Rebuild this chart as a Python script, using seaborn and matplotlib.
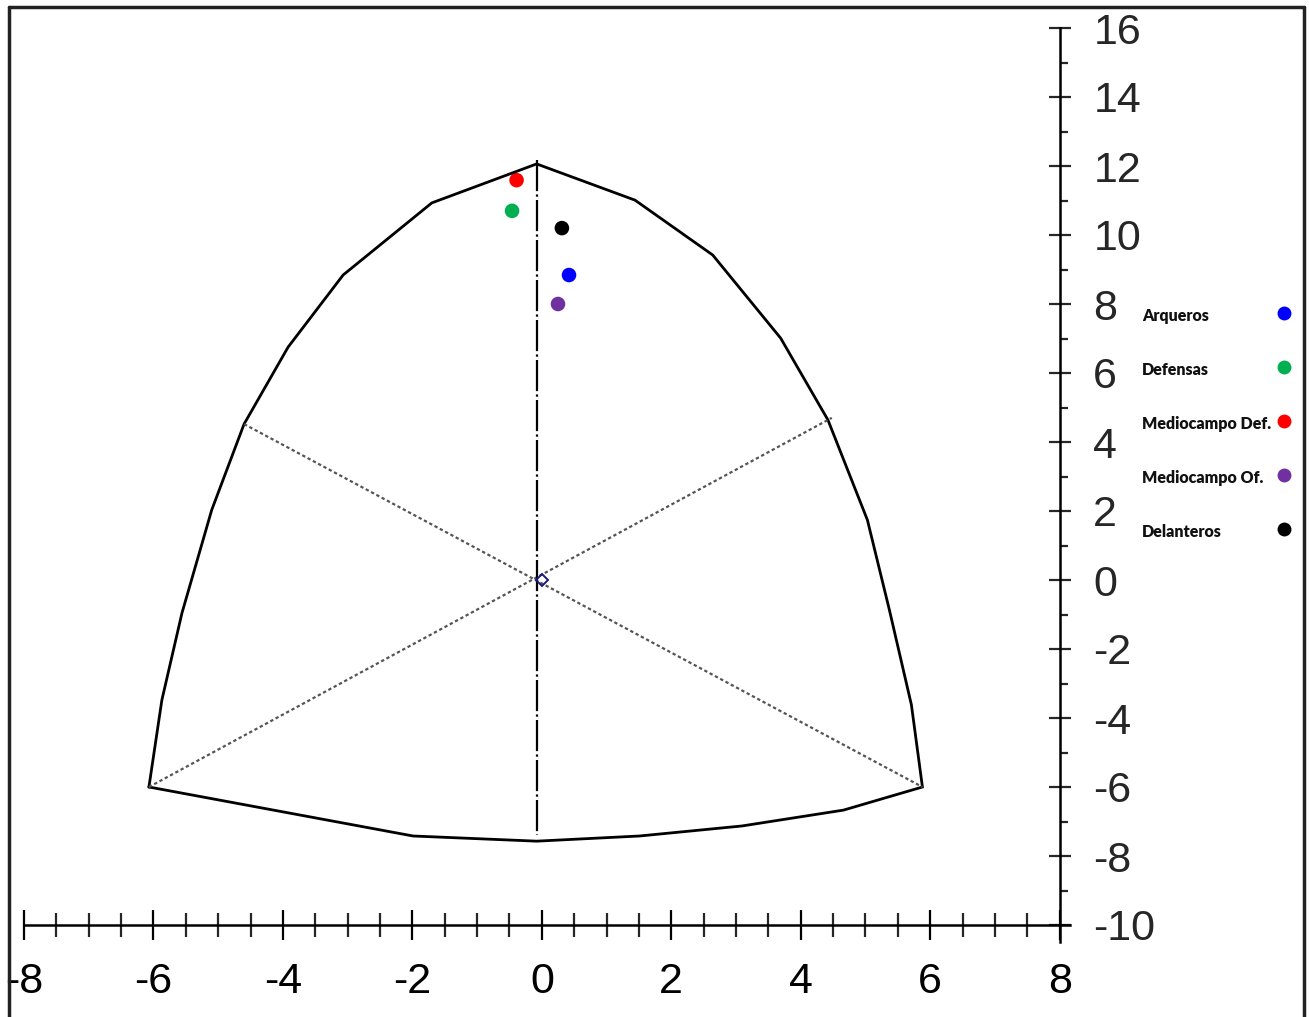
import seaborn as sns
import matplotlib.pyplot as plt
import pandas as pd
from matplotlib.lines import Line2D
from matplotlib.ticker import MultipleLocator

# somatochart outline, closed polygon
outline_x = [-6.07, -5.87, -5.56, -5.10, -4.60, -3.92, -3.07, -1.70, -0.08,
             1.44, 2.64, 3.69, 4.42, 5.03, 5.37, 5.71, 5.88,
             4.66, 3.09, 1.51, -0.08, -1.99, -6.07]
outline_y = [-6.00, -3.48, -0.96, 2.03, 4.52, 6.75, 8.84, 10.93, 12.06,
             11.01, 9.42, 7.01, 4.64, 1.74, -0.87, -3.62, -6.00,
             -6.67, -7.13, -7.42, -7.57, -7.42, -6.00]

# dotted diagonals and the vertical dash-dot axis
diag1_x = [-4.60, 5.88]
diag1_y = [4.52, -6.00]
diag2_x = [-6.07, 4.48]
diag2_y = [-6.00, 4.70]
vert_x = [-0.07, -0.07]
vert_y = [12.17, -7.39]

# group means
groups = ["Arqueros", "Defensas", "Mediocampo Def.", "Mediocampo Of.", "Delanteros"]
gx = [0.42, -0.46, -0.39, 0.25, 0.31]
gy = [8.84, 10.70, 11.59, 8.00, 10.20]
colors = ["#0000FF", "#00B050", "#FF0000", "#7030A0", "#000000"]

df = pd.DataFrame({"x": gx, "y": gy, "grupo": groups})

sns.set_style("white")
plt.rcParams["font.family"] = ["Liberation Sans Narrow", "Liberation Sans", "DejaVu Sans"]
plt.rcParams["axes.unicode_minus"] = False

W, H = 1309, 1017
fig = plt.figure(figsize=(W / 100, H / 100), dpi=100)
ax = fig.add_axes([24 / W, 1 - 942.25 / H, (1070 - 24) / W, (942.25 - 28) / H])

ax.plot(outline_x, outline_y, color="black", lw=2, solid_joinstyle="miter")
ax.plot(diag1_x, diag1_y, color="#555555", lw=1.6, linestyle=(0, (1.5, 1.2)))
ax.plot(diag2_x, diag2_y, color="#555555", lw=1.6, linestyle=(0, (1.5, 1.2)))
ax.plot(vert_x, vert_y, color="black", lw=1.6, linestyle=(0, (14, 1.5, 1, 1.5)))
ax.plot([0], [0], marker="D", markersize=6, mfc="none", mec="#1a1a7a", mew=1.4)

sns.scatterplot(data=df, x="x", y="y", hue="grupo", palette=colors,
                s=110, edgecolor="none", legend=False, ax=ax)

ax.set_xlim(-8, 8.16)
ax.set_ylim(-10.5, 16)
ax.set_xlabel("")
ax.set_ylabel("")

for s in ["left", "top"]:
    ax.spines[s].set_visible(False)
ax.spines["bottom"].set_position(("data", -10))
ax.spines["right"].set_position(("data", 8))
for s in ["bottom", "right"]:
    ax.spines[s].set_linewidth(1.8)
    ax.spines[s].set_color("black")

ax.yaxis.tick_right()
ax.set_xticks(range(-8, 9, 2))
ax.set_yticks(range(-10, 17, 2))
ax.xaxis.set_minor_locator(MultipleLocator(0.5))
ax.yaxis.set_minor_locator(MultipleLocator(1))

ax.tick_params(axis="x", which="major", direction="inout", length=21.6, width=1.6,
               pad=16, labelsize=31, colors="black", bottom=True, top=False)
ax.tick_params(axis="x", which="minor", direction="inout", length=17, width=1.6,
               bottom=True, top=False)
ax.tick_params(axis="y", which="major", direction="inout", length=16.5, width=1.6,
               pad=16, labelsize=31, right=True, left=False)
ax.tick_params(axis="y", which="minor", direction="out", length=6, width=1.6,
               right=True, left=False)

# legend drawn at the right side of the figure
leg_font = ["Lato", "DejaVu Sans"]
for i, (g, c) in enumerate(zip(groups, colors)):
    ty = 316 + i * 54
    fig.text(1142 / W, 1 - ty / H, g, ha="left", va="center", fontsize=11.5,
             fontweight="heavy", family=leg_font, color="#111111")
    fig.add_artist(Line2D([1284 / W], [1 - (ty - 3) / H], transform=fig.transFigure,
                          marker="o", markersize=10, color=c, mec="none", linestyle="none"))

# outer frame
frame_kw = dict(transform=fig.transFigure, color="#222222", lw=2.5)
fig.add_artist(Line2D([9 / W, 9 / W], [0, 1 - 7 / H], **frame_kw))
fig.add_artist(Line2D([9 / W, 1304 / W], [1 - 7 / H, 1 - 7 / H], **frame_kw))
fig.add_artist(Line2D([1304 / W, 1304 / W], [0, 1 - 7 / H], **frame_kw))

fig.savefig("out.png", dpi=100)
